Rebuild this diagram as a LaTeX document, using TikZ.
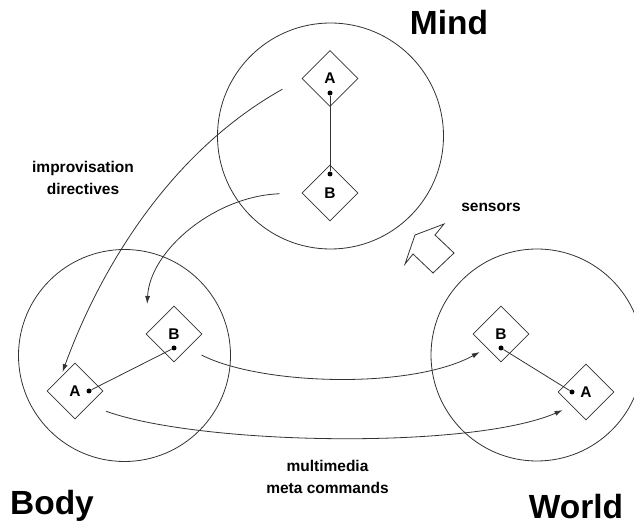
\documentclass[tikz,border=0pt]{standalone}
\usepackage{fontspec}
\setmainfont{Liberation Sans}
\usetikzlibrary{arrows.meta, positioning, shapes.geometric}

\begin{document}
\begin{tikzpicture}[x=1pt, y=1pt, line width=0.8pt, draw=black!80,
    every node/.style={font=\bfseries\fontsize{15.5}{22}\selectfont, text=black},
    world/.style={draw, circle, minimum size=#1, inner sep=0pt},
    slot/.style={draw, diamond, minimum width=56pt, minimum height=56pt, inner sep=0pt},
    dot/.style={fill=black, circle, minimum size=5pt, inner sep=0pt},
    title/.style={font=\bfseries\fontsize{33.5}{40}\selectfont},
    flow/.style={-{Latex[length=8pt, width=5pt]}}]
  \useasboundingbox (0,0) rectangle (634,527);
  % Circles
  \node[world=226pt] (mind) at (330.5,391) {};
  \node[world=212pt] (body) at (124.5,171.5) {};
  \node[world=212pt] (wrld) at (537,172) {};
  % Diamonds
  \node[slot] (mA) at (330,448.5) {A};
  \node[slot] (mB) at (330,334) {B};
  \node[slot] (bB) at (174,193) {B};
  \node[slot] (bA) at (75,136) {A};
  \node[slot] (wB) at (501,193) {B};
  \node[slot] (wA) at (586,135) {A};
  % Dots
  \node[dot] (mAd) at (330,434) {};
  \node[dot] (mBd) at (330,353) {};
  \node[dot] (bBd) at (174,179) {};
  \node[dot] (bAd) at (89,136) {};
  \node[dot] (wBd) at (501,179) {};
  \node[dot] (wAd) at (572,135) {};
  % Labels
  \node[title] (lmind) at (449,504) {Mind};
  \node[title] (lbody) at (52,21) {Body};
  \node[title] (lwrld) at (576,20) {World};
  \node[align=center] (limp) at (83,349) {improvisation\\directives};
  \node (lsens) at (491,320) {sensors};
  \node[align=center] (lmeta) at (327.5,50) {multimedia\\meta commands};
  % Links
  \draw (mAd) -- (mBd);
  \draw (bBd) -- (bAd);
  \draw (wBd) -- (wAd);
  \draw[flow, shorten <=22pt, shorten >=5pt] (mA.west) .. controls (165,372) and (97,250) .. (bA.north west);
  \draw[flow, shorten <=22pt, shorten >=30pt] (mB.west) .. controls (215,331) and (150,277) .. (bB.west);
  \draw[flow, shorten <=15pt, shorten >=8pt] (bB.south east) .. controls (260,142) and (410,137) .. (wB.south west);
  \draw[flow, shorten <=18pt, shorten >=10pt] (bA.south east) .. controls (200,82) and (470,77) .. (wA.south west);
  % Sensors arrow
  \draw (444,303) -- (415,292) -- (405,263) -- (413,273) -- (433,254) -- (454,274) -- (435,292) -- cycle;
\end{tikzpicture}
\end{document}
